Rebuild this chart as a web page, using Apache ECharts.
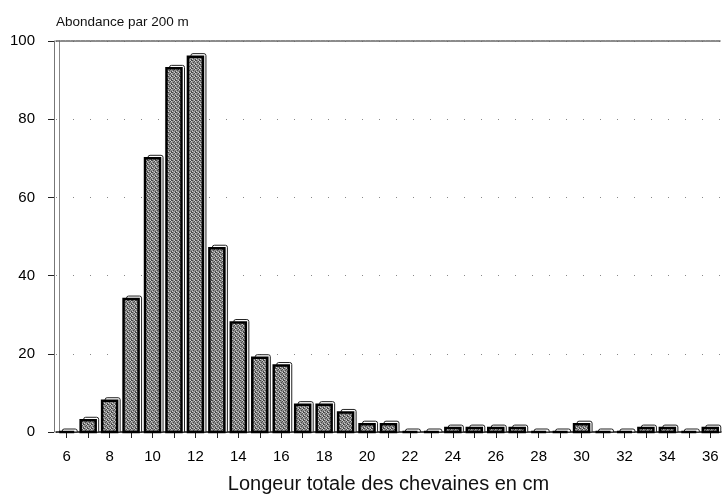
<!DOCTYPE html>
<html>
<head>
<meta charset="utf-8">
<script src="https://cdn.jsdelivr.net/npm/echarts@6/dist/echarts.min.js"></script>
<style>html,body{margin:0;padding:0;background:#fff;}#c{width:723px;height:499px;}</style>
</head>
<body>
<div id="c"></div>
<script>
const categories = ['6','7','8','9','10','11','12','13','14','15','16','17','18','19','20','21','22','23','24','25','26','27','28','29','30','31','32','33','34','35','36'];
const abundance = [0,3,8,34,70,93,96,47,28,19,17,7,7,5,2,2,0,0,1,1,1,1,0,0,2,0,0,1,1,0,1];
const yTicks = [0,20,40,60,80,100];

// deterministic stipple texture for the bar fill
const pc = document.createElement('canvas');
pc.width = 4; pc.height = 4;
const g = pc.getContext('2d');
g.fillStyle = '#8e8e8e'; g.fillRect(0,0,4,4);
g.fillStyle = '#4a4a4a';
[[0,0],[2,1],[1,2],[3,3],[3,0]].forEach(p=>g.fillRect(p[0],p[1],1,1));
g.fillStyle = '#d0d0d0';
[[2,0],[0,3],[3,1]].forEach(p=>g.fillRect(p[0],p[1],1,1));

const chart = echarts.init(document.getElementById('c'), null, {renderer:'canvas'});
const font = 'Liberation Sans, Arial, Helvetica, sans-serif';
chart.setOption({
  animation:false,
  grid:{left:56, right:2, top:41, bottom:66},
  xAxis:[{
    type:'category', data:categories, boundaryGap:true,
    axisLine:{show:true, lineStyle:{color:'#111', width:1.5}},
    axisTick:{show:true, alignWithLabel:true, interval:0, length:6, lineStyle:{color:'#222'}},
    axisLabel:{interval:1, color:'#000', fontSize:15, fontFamily:font, margin:17},
    splitLine:{show:false},
    name:'Longeur totale des chevaines en cm', nameLocation:'middle', nameGap:42,
    nameTextStyle:{fontSize:20, color:'#111', fontFamily:font}
  },{
    type:'category', data:categories, position:'top',
    axisLine:{show:true, onZero:false, lineStyle:{color:'#666', width:1.5, type:[4,1]}},
    axisTick:{show:false}, axisLabel:{show:false}, splitLine:{show:false}
  }],
  yAxis:[{
    type:'value', min:yTicks[0], max:yTicks[yTicks.length-1], interval:20, offset:2,
    axisLine:{show:true, lineStyle:{color:'#777', width:1}},
    axisTick:{show:true, length:6, lineStyle:{color:'#222'}},
    axisLabel:{color:'#000', fontSize:15, fontFamily:font, margin:19},
    splitLine:{show:true, lineStyle:{color:'#888', width:1, type:[1,16]}},
    name:'Abondance par 200 m', nameLocation:'end', nameGap:12,
    nameTextStyle:{align:'left', fontSize:13.5, color:'#111', fontFamily:font, padding:[0,0,0,2]}
  },{
    type:'value', min:0, max:100, position:'left', offset:-3,
    axisLine:{show:true, onZero:false, lineStyle:{color:'#888', width:1}},
    axisTick:{show:false}, axisLabel:{show:false}, splitLine:{show:false}
  }],
  series:[{
    type:'custom',
    encode:{x:0, y:1},
    data: categories.map((c,i)=>[i, abundance[i]]),
    renderItem:function(params, api){
      const top = api.coord([api.value(0), api.value(1)]);
      const base = api.coord([api.value(0), 0]);
      const bw = api.size([1,0])[0]*0.7;
      const x = top[0]-bw/2;
      const h = base[1]-top[1];
      return {type:'group', children:[
        {type:'rect', shape:{x:x+3, y:top[1]-3, width:bw, height:h+3, r:[2,2,0,0]},
         style:{fill:'#fff', stroke:'#222', lineWidth:1}},
        {type:'rect', shape:{x:x, y:top[1], width:bw, height:h},
         style:{fill:{image:pc, repeat:'repeat'}, stroke:'#000', lineWidth:2.5}}
      ]};
    }
  }]
});
</script>
</body>
</html>
